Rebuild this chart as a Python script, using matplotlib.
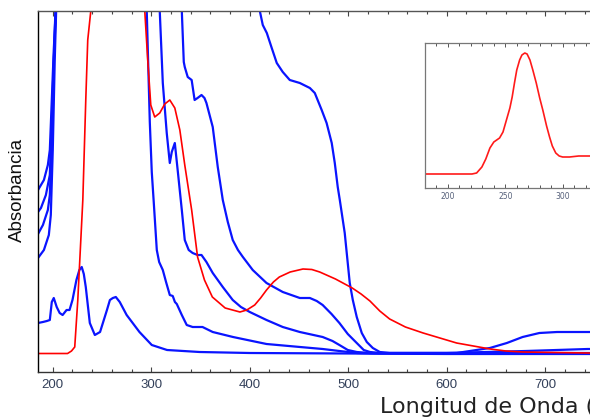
import matplotlib
matplotlib.use("Agg")
import matplotlib.pyplot as plt
from matplotlib.ticker import MultipleLocator, FixedLocator

# ---- data (wavelength nm, absorbance a.u.) ----
wl_red = [185, 215, 219, 222.3, 225.4, 230.5, 233.5, 235.5, 238.6, 242, 265, 290,
          293.4, 296.4, 299.5, 303.5, 308.6, 313.7, 318.8, 323.9, 329, 334, 341, 347,
          354, 362, 375, 390, 397, 405, 411, 417, 424, 430, 441, 454, 463, 471, 487,
          504, 513, 522, 532, 542, 558, 576, 593, 610, 627, 644, 660, 677, 710, 743, 800]
abs_red = [0.185, 0.185, 0.21, 0.25, 0.72, 1.72, 2.72, 3.32, 3.61, 4.5, 6.0, 4.5,
           3.61, 3.12, 2.67, 2.55, 2.59, 2.68, 2.72, 2.64, 2.42, 2.07, 1.62, 1.15,
           0.92, 0.75, 0.64, 0.60, 0.62, 0.67, 0.74, 0.82, 0.90, 0.95, 1.00, 1.03,
           1.025, 1.00, 0.93, 0.84, 0.78, 0.71, 0.61, 0.53, 0.45, 0.39, 0.34, 0.29,
           0.26, 0.23, 0.21, 0.20, 0.195, 0.19, 0.19]

wl_b1 = [185, 190, 194, 197, 199, 201, 204, 207, 210, 214, 217, 220, 224, 227, 229.4,
         231.5, 233.5, 237.6, 242.7, 248, 255, 258, 261, 264, 268, 275, 288, 300.5,
         316, 349, 400, 500, 600, 800]
abs_b1 = [0.49, 0.50, 0.51, 0.52, 0.70, 0.74, 0.65, 0.59, 0.57, 0.62, 0.62, 0.72,
          0.92, 1.02, 1.05, 0.98, 0.85, 0.49, 0.37, 0.40, 0.62, 0.72, 0.74, 0.75,
          0.70, 0.57, 0.40, 0.27, 0.22, 0.20, 0.19, 0.185, 0.18, 0.18]

wl_a = [185, 191, 196, 198, 200, 202, 206, 250, 292, 295.4, 298.5, 300.5, 302.5,
        305.6, 308, 311.7, 315, 318.8, 321.8, 324, 325.9, 331, 336, 342, 352,
        362.4, 383, 417, 451, 474, 491, 509, 530, 800]
abs_a = [1.14, 1.22, 1.37, 1.57, 2.22, 3.12, 4.5, 6.0, 4.5, 3.61, 2.5, 2.0, 1.7,
         1.22, 1.10, 1.02, 0.90, 0.77, 0.76, 0.70, 0.68, 0.57, 0.47, 0.45, 0.45,
         0.40, 0.35, 0.28, 0.25, 0.23, 0.21, 0.19, 0.185, 0.185]

wl_b = [185, 190, 195, 197, 199, 202, 206, 255, 305, 308.6, 311.7, 315.7, 318.8,
        320.8, 323.9, 327, 331, 334, 338, 342, 347, 351, 356, 362.4, 372.6, 382.7,
        391, 400, 417, 433.5, 450.8, 474, 484, 491, 499.5, 508.6, 522, 600, 680, 743, 800]
abs_b = [1.38, 1.47, 1.62, 1.77, 2.32, 3.42, 4.5, 6.0, 4.5, 3.61, 2.89, 2.39, 2.09,
         2.20, 2.29, 2.00, 1.62, 1.32, 1.22, 1.19, 1.17, 1.17, 1.10, 0.99, 0.85, 0.72,
         0.65, 0.60, 0.52, 0.45, 0.40, 0.35, 0.31, 0.27, 0.22, 0.20, 0.19, 0.19, 0.21,
         0.23, 0.23]

wl_c = [185, 188, 193, 197, 199, 201, 203, 207, 270, 328, 331, 333, 334, 337, 341,
        344, 347, 351, 354, 356, 362.4, 367.5, 372.6, 377.7, 382.7, 388, 393, 403, 417,
        433.5, 450.8, 461, 468, 474, 483, 491, 499.5, 508.6, 515.7, 522, 532, 800]
abs_c = [1.60, 1.64, 1.77, 1.97, 2.52, 3.12, 3.57, 4.5, 6.0, 4.5, 3.61, 3.10, 3.05,
         2.95, 2.92, 2.72, 2.74, 2.77, 2.74, 2.69, 2.45, 2.05, 1.72, 1.50, 1.32, 1.22,
         1.15, 1.02, 0.89, 0.80, 0.74, 0.74, 0.71, 0.67, 0.58, 0.49, 0.38, 0.29, 0.22,
         0.20, 0.19, 0.19]

wl_d = [185, 191, 195, 197, 199, 201, 203, 207, 300, 405, 410.2, 413.2, 417.3, 422.3,
        427.4, 433.5, 440.6, 450.8, 461, 466, 473, 478, 483.2, 486.3, 489.3, 491.4,
        496.4, 501.5, 504.6, 508.6, 513.7, 518.8, 524.9, 532, 542, 610, 643.7, 661,
        677, 694, 712, 743, 800]
abs_d = [1.82, 1.92, 2.07, 2.22, 2.72, 3.22, 3.61, 4.5, 6.0, 4.5, 3.61, 3.47, 3.39,
         3.24, 3.09, 3.00, 2.92, 2.89, 2.84, 2.79, 2.62, 2.49, 2.29, 2.09, 1.85, 1.72,
         1.39, 0.89, 0.72, 0.55, 0.39, 0.30, 0.24, 0.20, 0.19, 0.19, 0.24, 0.29, 0.35,
         0.39, 0.40, 0.40, 0.40]

# inset spectrum (diluted sample)
wl_ins = [180, 221, 225, 229.6, 233, 236.6, 240, 245, 248, 251, 254, 256, 258, 260,
          262.5, 264.5, 267, 269, 271.5, 274, 277, 280, 282.7, 286, 288.6, 291, 294,
          297, 300, 306, 314, 322, 340]
abs_ins = [0.14, 0.14, 0.15, 0.21, 0.29, 0.40, 0.46, 0.50, 0.56, 0.68, 0.80, 0.91,
           1.05, 1.18, 1.28, 1.33, 1.35, 1.34, 1.28, 1.18, 1.05, 0.90, 0.78, 0.62,
           0.51, 0.42, 0.35, 0.32, 0.31, 0.31, 0.32, 0.32, 0.32]

xticks_main = [200, 300, 400, 500, 600, 700]
xticks_inset = [200, 250, 300]

blue_series = [(wl_b1, abs_b1), (wl_a, abs_a), (wl_b, abs_b), (wl_c, abs_c), (wl_d, abs_d)]

W, H = 590, 417
fig = plt.figure(figsize=(W / 100, H / 100), dpi=100)

# main axes (extends past right edge of the figure like the original)
ax = fig.add_axes([38 / W, 45 / H, 615 * 0.985 / W, 361 / H])
for x, y in blue_series:
    ax.plot(x, y, color="#0a14ff", lw=1.6, solid_joinstyle="round")
ax.plot(wl_red, abs_red, color="#ff0000", lw=1.2, solid_joinstyle="round")
ax.set_xlim(185, 800)
ax.set_ylim(0, 3.61)
ax.set_yticks([])
ax.xaxis.set_major_locator(FixedLocator(xticks_main))
ax.xaxis.set_minor_locator(MultipleLocator(20))
ax.tick_params(axis="x", which="both", direction="in", top=True, bottom=True,
               width=0.8, color="#444444", labelsize=9.5, labelcolor="#33405a", pad=5)
ax.tick_params(axis="x", which="major", length=3.5)
ax.tick_params(axis="x", which="minor", length=2.5)
for lab in ax.get_xticklabels():
    lab.set_fontfamily("Liberation Sans")
ax.spines["right"].set_visible(False)
ax.spines["left"].set_color("black")
ax.spines["bottom"].set_color("#333333")
ax.spines["top"].set_color("#555555")
for s in ax.spines.values():
    s.set_linewidth(1.0)

fig.text(17 / W, 1 - 190 / H, "Absorbancia", rotation=90, ha="center", va="center",
         fontsize=13.5, family="Liberation Sans", color="#111111")
fig.text(380 / W, 1 - 407 / H, "Longitud de Onda (nm)", ha="left", va="center",
         fontsize=16, family="DejaVu Sans", color="#222222")

# inset
ins = fig.add_axes([425 / W, 229 / H, 160 * 1.147 / W, 145 / H])
ins.plot(wl_ins, abs_ins, color="#ff1a1a", lw=1.2, solid_joinstyle="round")
ins.set_xlim(180, 340)
ins.set_ylim(0, 1.45)
ins.set_yticks([])
ins.xaxis.set_major_locator(FixedLocator(xticks_inset))
ins.xaxis.set_minor_locator(MultipleLocator(10))
ins.tick_params(axis="x", which="both", direction="in", top=True, bottom=True,
                width=0.7, color="#555555", labelsize=5.5, labelcolor="#55607a", pad=3)
ins.tick_params(axis="x", which="major", length=3)
ins.tick_params(axis="x", which="minor", length=2)
for s in ins.spines.values():
    s.set_color("#777777")
    s.set_linewidth(0.9)

fig.savefig("out.png", dpi=100)
